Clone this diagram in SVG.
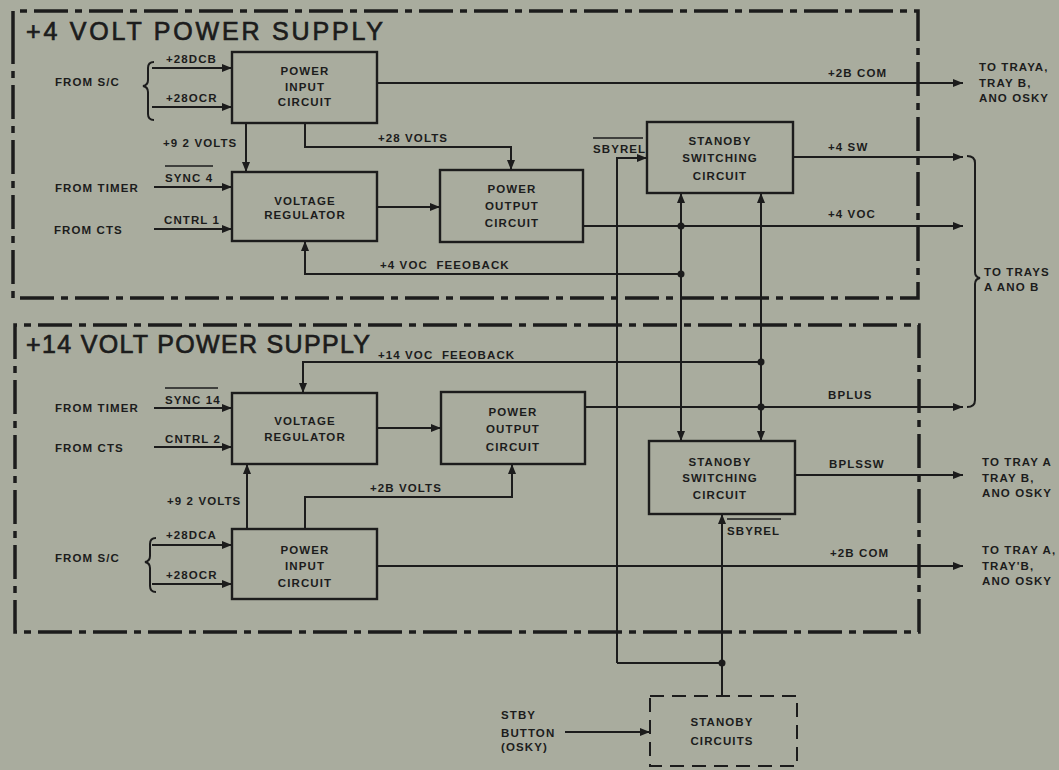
<svg xmlns="http://www.w3.org/2000/svg" width="1059" height="770" viewBox="0 0 1059 770">
<style>
.bg{fill:#a9ac9e}
.frame{fill:none;stroke:#1c1c1c;stroke-width:3.5;stroke-dasharray:34 7 7 7}
.box{fill:none;stroke:#1c1c1c;stroke-width:2.4}
.dbox{fill:none;stroke:#1c1c1c;stroke-width:2;stroke-dasharray:14 8}
.w{fill:none;stroke:#1c1c1c;stroke-width:2}
.a{marker-end:url(#ah)}
.dot{fill:#1c1c1c}
text{font-family:"Liberation Sans",Arial,sans-serif;fill:#1c1c1c}
.t{font-size:11.5px;font-weight:bold;letter-spacing:1.1px}
.c{text-anchor:middle}
.title{font-size:25px;stroke:#1c1c1c;stroke-width:0.7px}
.ol{stroke:#1c1c1c;stroke-width:1.5}
</style>
<defs>
<marker id="ah" markerWidth="10" markerHeight="8" refX="10" refY="4" orient="auto" markerUnits="userSpaceOnUse">
<path d="M0,0 L10,4 L0,8 z" fill="#1c1c1c"/>
</marker>
</defs>
<rect class="bg" x="0" y="0" width="1059" height="770"/>

<g id="frame-4v">
<path class="frame" d="M13,45 L13,11 L918,11 L918,298 L13,298 Z"/>
<text class="title" x="26" y="40" textLength="357" lengthAdjust="spacing">+4 VOLT POWER SUPPLY</text>
</g>
<g id="frame-14v">
<path class="frame" d="M15,357 L15,325 L919,325 L919,632 L15,632 Z"/>
<text class="title" x="26" y="353" textLength="344" lengthAdjust="spacing">+14 VOLT POWER SUPPLY</text>
</g>

<g id="connectors">
<path class="w a" d="M152,68 H232"/>
<path class="w a" d="M152,107 H232"/>
<path class="w" d="M154,62 Q148,62 148,68 V80 Q148,85 143,86 Q148,87 148,92 V114 Q148,120 154,120"/>
<path class="w a" d="M246,123 V172"/>
<path class="w a" d="M305,123 V147 H511 V170"/>
<path class="w a" d="M154,187 H232"/>
<path class="w a" d="M154,229 H232"/>
<path class="w a" d="M377,207 H440"/>
<path class="w a" d="M681,274 H305 V241"/>
<path class="w a" d="M377,83 H963"/>
<path class="w a" d="M793,157 H963"/>
<path class="w a" d="M583,226 H963"/>
<path class="w a" d="M617,663 V158 H647"/>
<path class="w" d="M617,663 H722"/>
<path class="w a" d="M722,695 V514"/>
<path class="w a" d="M681,226 V193"/>
<path class="w a" d="M681,226 V441"/>
<path class="w a" d="M761,407 V193"/>
<path class="w a" d="M761,407 V441"/>
<path class="w a" d="M761,362 H303 V393"/>
<path class="w a" d="M154,408 H232"/>
<path class="w a" d="M154,447 H232"/>
<path class="w a" d="M377,428 H441"/>
<path class="w a" d="M585,407 H963"/>
<path class="w a" d="M247,529 V464"/>
<path class="w a" d="M305,529 V497 H512 V464"/>
<path class="w a" d="M152,545 H232"/>
<path class="w a" d="M152,584 H232"/>
<path class="w" d="M156,538 Q150,538 150,544 V556 Q150,561 145,562 Q150,563 150,568 V586 Q150,592 156,592"/>
<path class="w a" d="M377,566 H963"/>
<path class="w a" d="M795,475 H963"/>
<path class="w a" d="M565,732 H650"/>
<path class="w" d="M967,156 Q975,156 975,163 V272 Q975,277 980,278 Q975,279 975,284 V400 Q975,407 967,407"/>
<circle class="dot" cx="681" cy="226" r="3.5"/>
<circle class="dot" cx="681" cy="274" r="3.5"/>
<circle class="dot" cx="761" cy="362" r="3.5"/>
<circle class="dot" cx="761" cy="407" r="3.5"/>
<circle class="dot" cx="722" cy="663" r="3.5"/>
</g>

<g id="power-input-4v">
<rect class="box" x="232" y="52" width="145" height="71"/>
<text class="t c" x="305" y="75">POWER</text>
<text class="t c" x="305" y="91">INPUT</text>
<text class="t c" x="305" y="106">CIRCUIT</text>
</g>
<g id="voltage-regulator-4v">
<rect class="box" x="232" y="172" width="145" height="69"/>
<text class="t c" x="305" y="205">VOLTAGE</text>
<text class="t c" x="305" y="219">REGULATOR</text>
</g>
<g id="power-output-4v">
<rect class="box" x="440" y="170" width="143" height="72"/>
<text class="t c" x="512" y="193">POWER</text>
<text class="t c" x="512" y="210">OUTPUT</text>
<text class="t c" x="512" y="227">CIRCUIT</text>
</g>
<g id="standby-switching-4v">
<rect class="box" x="647" y="122" width="146" height="71"/>
<text class="t c" x="720" y="145">STANOBY</text>
<text class="t c" x="720" y="162">SWITCHING</text>
<text class="t c" x="720" y="180">CIRCUIT</text>
</g>
<g id="voltage-regulator-14v">
<rect class="box" x="232" y="393" width="145" height="71"/>
<text class="t c" x="305" y="425">VOLTAGE</text>
<text class="t c" x="305" y="441">REGULATOR</text>
</g>
<g id="power-output-14v">
<rect class="box" x="441" y="392" width="144" height="72"/>
<text class="t c" x="513" y="416">POWER</text>
<text class="t c" x="513" y="433">OUTPUT</text>
<text class="t c" x="513" y="451">CIRCUIT</text>
</g>
<g id="standby-switching-14v">
<rect class="box" x="649" y="441" width="146" height="73"/>
<text class="t c" x="720" y="466">STANOBY</text>
<text class="t c" x="720" y="482">SWITCHING</text>
<text class="t c" x="720" y="499">CIRCUIT</text>
</g>
<g id="power-input-14v">
<rect class="box" x="232" y="529" width="145" height="70"/>
<text class="t c" x="305" y="554">POWER</text>
<text class="t c" x="305" y="570">INPUT</text>
<text class="t c" x="305" y="587">CIRCUIT</text>
</g>
<g id="standby-circuits">
<rect class="dbox" x="650" y="696" width="147" height="70"/>
<text class="t c" x="722" y="726">STANOBY</text>
<text class="t c" x="722" y="745">CIRCUITS</text>
</g>

<g id="labels">
<text class="t" x="55" y="86">FROM S/C</text>
<text class="t" x="166" y="63">+28DCB</text>
<text class="t" x="166" y="102">+28OCR</text>
<text class="t" x="163" y="147">+9 2 VOLTS</text>
<text class="t" x="378" y="142">+28 VOLTS</text>
<text class="t" x="55" y="192">FROM TIMER</text>
<text class="t" x="165" y="182">SYNC 4</text>
<line class="ol" x1="165" y1="166" x2="213" y2="166"/>
<text class="t" x="54" y="234">FROM CTS</text>
<text class="t" x="164" y="224">CNTRL 1</text>
<text class="t" x="380" y="269" xml:space="preserve">+4 VOC  FEEOBACK</text>
<text class="t" x="593" y="153">SBYREL</text>
<line class="ol" x1="593" y1="138" x2="643" y2="138"/>
<text class="t" x="828" y="77">+2B COM</text>
<text class="t" x="979" y="71">TO TRAYA,</text>
<text class="t" x="979" y="87">TRAY B,</text>
<text class="t" x="979" y="102">ANO OSKY</text>
<text class="t" x="828" y="151">+4 SW</text>
<text class="t" x="828" y="218">+4 VOC</text>
<text class="t" x="984" y="276">TO TRAYS</text>
<text class="t" x="984" y="291">A ANO B</text>
<text class="t" x="378" y="359" xml:space="preserve">+14 VOC  FEEOBACK</text>
<text class="t" x="55" y="412">FROM TIMER</text>
<text class="t" x="165" y="404">SYNC 14</text>
<line class="ol" x1="165" y1="388" x2="218" y2="388"/>
<text class="t" x="55" y="452">FROM CTS</text>
<text class="t" x="165" y="443">CNTRL 2</text>
<text class="t" x="167" y="505">+9 2 VOLTS</text>
<text class="t" x="370" y="492">+2B VOLTS</text>
<text class="t" x="55" y="562">FROM S/C</text>
<text class="t" x="166" y="539">+28DCA</text>
<text class="t" x="166" y="579">+28OCR</text>
<text class="t" x="828" y="399">BPLUS</text>
<text class="t" x="829" y="468">BPLSSW</text>
<text class="t" x="727" y="535">SBYREL</text>
<line class="ol" x1="727" y1="519" x2="781" y2="519"/>
<text class="t" x="830" y="557">+2B COM</text>
<text class="t" x="982" y="466">TO TRAY A</text>
<text class="t" x="982" y="482">TRAY B,</text>
<text class="t" x="982" y="497">ANO OSKY</text>
<text class="t" x="982" y="554">TO TRAY A,</text>
<text class="t" x="982" y="570">TRAY'B,</text>
<text class="t" x="982" y="585">ANO OSKY</text>
<text class="t" x="501" y="719">STBY</text>
<text class="t" x="501" y="737">BUTTON</text>
<text class="t" x="501" y="751">(OSKY)</text>
</g>
</svg>
